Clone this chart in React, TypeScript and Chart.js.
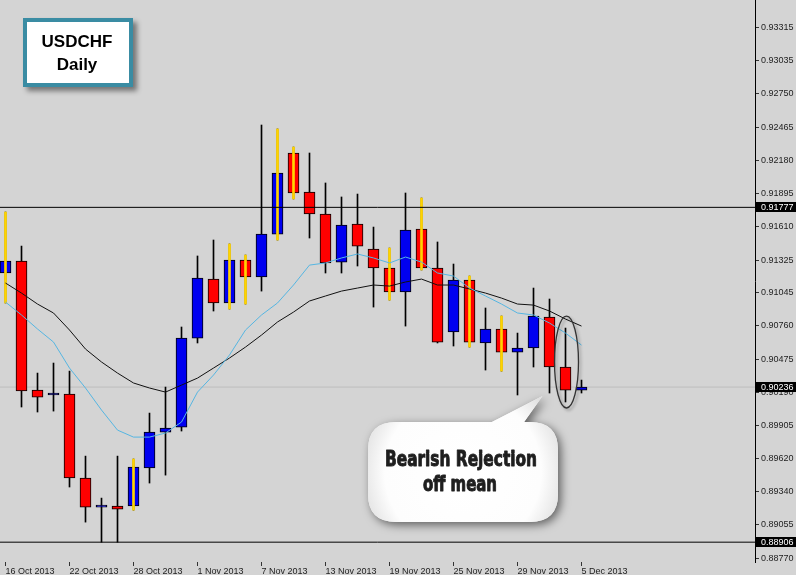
import React, { useEffect, useRef } from "react";
import { Chart, registerables } from "chart.js";
Chart.register(...registerables);

// ---------- data ----------
const dates = [
  "16 Oct 2013", "17 Oct 2013", "18 Oct 2013", "21 Oct 2013", "22 Oct 2013", "23 Oct 2013",
  "24 Oct 2013", "25 Oct 2013", "28 Oct 2013", "29 Oct 2013", "30 Oct 2013", "31 Oct 2013",
  "1 Nov 2013", "4 Nov 2013", "5 Nov 2013", "6 Nov 2013", "7 Nov 2013", "8 Nov 2013",
  "11 Nov 2013", "12 Nov 2013", "13 Nov 2013", "14 Nov 2013", "15 Nov 2013", "18 Nov 2013",
  "19 Nov 2013", "20 Nov 2013", "21 Nov 2013", "22 Nov 2013", "25 Nov 2013", "26 Nov 2013",
  "27 Nov 2013", "28 Nov 2013", "29 Nov 2013", "2 Dec 2013", "3 Dec 2013", "4 Dec 2013",
  "5 Dec 2013",
];

const opens = [
  0.91214, 0.91317, 0.9021, 0.90168, 0.90176, 0.89456, 0.89207, 0.89216, 0.89216, 0.89542,
  0.8985, 0.89893, 0.90656, 0.91162, 0.90957, 0.91325, 0.9118, 0.91548, 0.92243, 0.91908,
  0.9172, 0.91308, 0.91634, 0.9142, 0.91257, 0.91051, 0.91591, 0.91257, 0.90708, 0.91154,
  0.90614, 0.90734, 0.90536, 0.90571, 0.90837, 0.90408, 0.9021,
];
const highs = [
  0.91737, 0.91445, 0.90356, 0.90442, 0.90373, 0.89644, 0.89284, 0.89644, 0.89619, 0.90013,
  0.90236, 0.90751, 0.9136, 0.91497, 0.91463, 0.91368, 0.92483, 0.92449, 0.92294, 0.92243,
  0.91986, 0.91866, 0.91891, 0.91608, 0.91428, 0.919, 0.91857, 0.9148, 0.91291, 0.91188,
  0.90914, 0.90845, 0.90699, 0.91085, 0.90991, 0.90742, 0.90296,
];
const lows = [
  0.90957, 0.90065, 0.90022, 0.9003, 0.89379, 0.89078, 0.88906, 0.88906, 0.89181, 0.89413,
  0.89481, 0.89859, 0.90614, 0.90888, 0.90905, 0.90948, 0.91059, 0.91497, 0.91849, 0.91514,
  0.91214, 0.91214, 0.91274, 0.90922, 0.90982, 0.90759, 0.9124, 0.90614, 0.90588, 0.90579,
  0.90382, 0.90373, 0.90168, 0.90408, 0.90185, 0.90108, 0.90185,
];
const closes = [
  0.91317, 0.90202, 0.9015, 0.9017, 0.89456, 0.89207, 0.8921, 0.8919, 0.8955, 0.8985,
  0.89885, 0.90656, 0.91171, 0.90957, 0.91325, 0.9118, 0.91548, 0.92071, 0.919, 0.9172,
  0.913, 0.91625, 0.91445, 0.91257, 0.91051, 0.91583, 0.91257, 0.90622, 0.91154, 0.90622,
  0.90734, 0.90536, 0.90571, 0.90845, 0.90408, 0.9021, 0.90236,
];

const maFast = [
  0.90965, 0.90854, 0.90734, 0.90622, 0.90399, 0.90228, 0.90039, 0.89867, 0.89807, 0.89807,
  0.89842, 0.89936, 0.90193, 0.90339, 0.90511, 0.90725, 0.90854, 0.90957, 0.91111, 0.91282,
  0.913, 0.91343, 0.91377, 0.91343, 0.913, 0.91351, 0.91308, 0.91214, 0.91188, 0.91085,
  0.91017, 0.90948, 0.90871, 0.90854, 0.90785, 0.90699, 0.90596,
];
const maSlow = [
  0.91128, 0.91042, 0.90948, 0.90871, 0.90725, 0.90562, 0.90451, 0.90356, 0.90271, 0.90228,
  0.90193, 0.90253, 0.90313, 0.90399, 0.90485, 0.90579, 0.90682, 0.90794, 0.90879, 0.90974,
  0.91017, 0.91059, 0.91085, 0.91111, 0.91102, 0.91137, 0.91162, 0.91111, 0.91111, 0.91077,
  0.91042, 0.90999, 0.90948, 0.90939, 0.90888, 0.90819, 0.90759,
];

const markedBars = [0, 8, 14, 15, 17, 18, 24, 26, 29, 31];
const levelLines = [0.91777, 0.88906];
const priceTicks = [
  0.93315, 0.93035, 0.9275, 0.92465, 0.9218, 0.91895, 0.9161, 0.91325, 0.91045, 0.9076,
  0.90475, 0.9019, 0.89905, 0.8962, 0.8934, 0.89055, 0.8877,
];
const dateTickIdx = [0, 4, 8, 12, 16, 20, 24, 28, 32, 36];
const annotatedBar = 35;
const titleLines = ["USDCHF", "Daily"];
const bubbleLines = ["Bearish Rejection", "off mean"];

const BG = "#d4d4d4";

function drawFittedText(ctx: CanvasRenderingContext2D, text: string, cx: number, cy: number, width: number) {
  const m = ctx.measureText(text).width;
  const sx = width / m;
  ctx.save();
  ctx.translate(cx, cy);
  ctx.scale(sx, 1);
  ctx.textAlign = "center";
  ctx.textBaseline = "middle";
  ctx.lineWidth = 0.9;
  ctx.lineJoin = "round";
  ctx.strokeText(text, 0, 0);
  ctx.fillText(text, 0, 0);
  ctx.restore();
}

function roundRect(ctx: CanvasRenderingContext2D, x: number, y: number, w: number, h: number, r: number) {
  ctx.moveTo(x + r, y);
  ctx.lineTo(x + w - r, y);
  ctx.quadraticCurveTo(x + w, y, x + w, y + r);
  ctx.lineTo(x + w, y + h - r);
  ctx.quadraticCurveTo(x + w, y + h, x + w - r, y + h);
  ctx.lineTo(x + r, y + h);
  ctx.quadraticCurveTo(x, y + h, x, y + h - r);
  ctx.lineTo(x, y + r);
  ctx.quadraticCurveTo(x, y, x + r, y);
  ctx.closePath();
}

const bgPlugin = {
  id: "bgFill",
  beforeDraw(chart: any) {
    const ctx = chart.ctx;
    ctx.save();
    ctx.fillStyle = BG;
    ctx.fillRect(0, 0, chart.width, chart.height);
    ctx.restore();
  },
};

const annotationPlugin = {
  id: "annotations",
  afterDraw(chart: any) {
    const ctx: CanvasRenderingContext2D = chart.ctx;
    const xs = chart.scales.x;
    const ys = chart.scales.y;

    // price boxes on the right axis
    const boxes = [...levelLines, closes[closes.length - 1]];
    ctx.save();
    ctx.font = '9px "Liberation Sans", Arial, sans-serif';
    boxes.forEach((v) => {
      const py = ys.getPixelForValue(v);
      ctx.fillStyle = "#000";
      ctx.fillRect(ys.left + 1, Math.round(py) - 5, chart.width - ys.left - 1, 10);
      ctx.fillStyle = "#fff";
      ctx.textAlign = "left";
      ctx.textBaseline = "middle";
      ctx.fillText(v.toFixed(5), ys.left + 6, Math.round(py) + 0.5);
    });
    ctx.restore();

    // title box
    ctx.save();
    ctx.shadowColor = "rgba(0,0,0,0.45)";
    ctx.shadowBlur = 5;
    ctx.shadowOffsetX = 4;
    ctx.shadowOffsetY = 4;
    ctx.fillStyle = "#3a8ca3";
    ctx.fillRect(23, 18, 110, 69);
    ctx.restore();
    ctx.save();
    ctx.fillStyle = "#ffffff";
    ctx.fillRect(27, 22, 102, 61);
    ctx.fillStyle = "#000";
    ctx.font = 'bold 17px "Liberation Sans", Arial, sans-serif';
    ctx.textAlign = "center";
    ctx.textBaseline = "alphabetic";
    ctx.fillText(titleLines[0], 77, 47);
    ctx.fillText(titleLines[1], 77, 70);
    ctx.restore();

    // ellipse around the rejection candle
    const ex = xs.getPixelForValue(annotatedBar) + 1;
    const yh = ys.getPixelForValue(highs[annotatedBar]);
    const yl = ys.getPixelForValue(lows[annotatedBar]);
    ctx.save();
    ctx.shadowColor = "rgba(0,0,0,0.3)";
    ctx.shadowBlur = 3;
    ctx.shadowOffsetX = 2;
    ctx.shadowOffsetY = 2;
    ctx.strokeStyle = "#333";
    ctx.lineWidth = 1.3;
    ctx.beginPath();
    ctx.ellipse(ex, (yh + yl) / 2 - 3, 12, (yl - yh) / 2 + 9, 0, 0, Math.PI * 2);
    ctx.stroke();
    ctx.restore();

    // speech bubble
    const bx = 368, by = 422, bw = 190, bh = 100;
    ctx.save();
    ctx.beginPath();
    roundRect(ctx, bx, by, bw, bh, 28);
    ctx.moveTo(486, by + 3);
    ctx.lineTo(ex - 24, yl - 6);
    ctx.lineTo(522, by + 3);
    ctx.closePath();
    ctx.shadowColor = "rgba(0,0,0,0.55)";
    ctx.shadowBlur = 10;
    ctx.shadowOffsetX = 3;
    ctx.shadowOffsetY = 3;
    ctx.fillStyle = "#f4f4f4";
    ctx.fill();
    ctx.shadowColor = "transparent";
    const g = ctx.createRadialGradient(bx + bw / 2, by + bh / 2, 10, bx + bw / 2, by + bh / 2, 115);
    g.addColorStop(0, "#ffffff");
    g.addColorStop(0.65, "#fdfdfd");
    g.addColorStop(1, "#d6d6d6");
    ctx.fillStyle = g;
    ctx.fill();
    ctx.fillStyle = "#1e1e1e";
    ctx.strokeStyle = "#1e1e1e";
    ctx.font = 'bold 21px "DejaVu Sans Condensed", "Liberation Sans Narrow", sans-serif';
    drawFittedText(ctx, bubbleLines[0], 461, 461, 152);
    drawFittedText(ctx, bubbleLines[1], 460, 486, 74);
    ctx.restore();
  },
};

export default function App() {
  const ref = useRef<HTMLCanvasElement | null>(null);

  useEffect(() => {
    document.body.style.margin = "0";
    document.body.style.background = BG;
    if (!ref.current) return;
    const idx = dates.map((_, i) => i);
    const xMin = -0.34375;
    const xMax = 46.84375;

    const chart = new Chart(ref.current, {
      type: "bar",
      data: {
        datasets: [
          {
            type: "line",
            label: "bid",
            data: [
              { x: xMin - 1, y: closes[closes.length - 1] },
              { x: xMax + 1, y: closes[closes.length - 1] },
            ],
            borderColor: "#bdbdbd",
            borderWidth: 1,
            pointRadius: 0,
            order: 20,
          } as any,
          {
            label: "wicks",
            data: idx.map((i) => ({ x: i, y: [lows[i], highs[i]] })),
            backgroundColor: "#000",
            borderWidth: 0,
            barThickness: 1,
            grouped: false,
            order: 15,
          } as any,
          {
            label: "bodies",
            data: idx.map((i) => ({ x: i, y: [opens[i], closes[i]] })),
            backgroundColor: idx.map((i) => (closes[i] >= opens[i] ? "#0000f0" : "#ff0000")),
            borderColor: "#000",
            borderWidth: 1,
            borderSkipped: false,
            barThickness: 11,
            minBarLength: 2,
            grouped: false,
            order: 14,
          } as any,
          {
            label: "marks",
            data: markedBars.map((i) => ({ x: i, y: [lows[i], highs[i]] })),
            backgroundColor: "#ffd400",
            borderWidth: 0,
            barThickness: 2,
            grouped: false,
            order: 13,
          } as any,
          ...levelLines.map(
            (v) =>
              ({
                type: "line",
                label: "level " + v,
                data: [
                  { x: xMin - 1, y: v },
                  { x: xMax + 1, y: v },
                ],
                borderColor: "#000",
                borderWidth: 1,
                pointRadius: 0,
                order: 12,
              }) as any
          ),
          {
            type: "line",
            label: "MA slow",
            data: idx.map((i) => ({ x: i, y: maSlow[i] })),
            borderColor: "#111",
            borderWidth: 1,
            pointRadius: 0,
            tension: 0,
            order: 2,
          } as any,
          {
            type: "line",
            label: "MA fast",
            data: idx.map((i) => ({ x: i, y: maFast[i] })),
            borderColor: "#56b6e2",
            borderWidth: 1,
            pointRadius: 0,
            tension: 0,
            order: 1,
          } as any,
        ],
      },
      options: {
        animation: false,
        responsive: false,
        devicePixelRatio: 1,
        events: [],
        layout: { padding: 0 },
        plugins: { legend: { display: false }, tooltip: { enabled: false } },
        scales: {
          x: {
            type: "linear",
            min: xMin,
            max: xMax,
            offset: false,
            afterBuildTicks: (s: any) => {
              s.ticks = dateTickIdx.map((v) => ({ value: v }));
            },
            afterFit: (s: any) => {
              s.height = 13;
              s.paddingLeft = 0;
              s.paddingRight = 0;
            },
            ticks: {
              autoSkip: false,
              maxRotation: 0,
              align: "start",
              padding: 0,
              color: "#222",
              font: { family: '"Liberation Sans", Arial, sans-serif', size: 9 },
              callback: (v: any) => dates[v] ?? "",
            },
            grid: { drawOnChartArea: false, drawTicks: true, tickLength: 4, color: "#333", offset: false },
            border: { display: false },
          },
          y: {
            type: "linear",
            position: "right",
            min: 0.88736,
            max: 0.93555,
            afterBuildTicks: (s: any) => {
              s.ticks = priceTicks.map((v) => ({ value: v }));
            },
            afterFit: (s: any) => {
              s.width = 41;
              s.paddingTop = 0;
              s.paddingBottom = 0;
            },
            ticks: {
              padding: 2,
              color: "#222",
              font: { family: '"Liberation Sans", Arial, sans-serif', size: 9 },
              callback: (v: any) => Number(v).toFixed(5),
            },
            grid: { drawOnChartArea: false, tickLength: 4, color: "#333" },
            border: { display: true, color: "#000", width: 1 },
          },
        },
      } as any,
      plugins: [bgPlugin, annotationPlugin],
    });
    return () => chart.destroy();
  }, []);

  return (
    <div style={{ width: 796, height: 575, background: BG }}>
      <canvas ref={ref} width={796} height={575} style={{ display: "block", width: 796, height: 575 }} />
    </div>
  );
}
